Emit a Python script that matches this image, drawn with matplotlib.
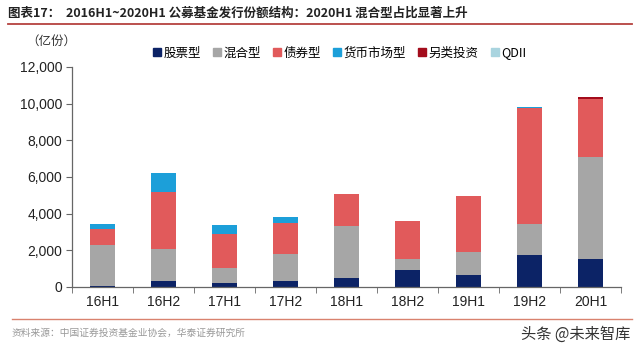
import matplotlib
matplotlib.use("Agg")
import matplotlib.pyplot as plt
import numpy as np
from matplotlib.lines import Line2D

plt.rcParams['font.family'] = ['Liberation Sans', 'Noto Sans CJK SC', 'DejaVu Sans']

categories = ["16H1", "16H2", "17H1", "17H2", "18H1", "18H2", "19H1", "19H2", "20H1"]
stock = [70, 310, 240, 340, 490, 940, 650, 1760, 1540]
mixed = [2200, 1760, 780, 1470, 2830, 580, 1250, 1690, 5530]
bond = [920, 3120, 1850, 1670, 1740, 2100, 3080, 6290, 3180]
money = [240, 1010, 500, 360, 0, 0, 0, 60, 0]
alt = [0, 0, 0, 0, 0, 0, 0, 0, 130]
qdii = [20, 0, 0, 0, 0, 0, 0, 40, 0]
series_names = ["股票型", "混合型", "债券型", "货币市场型", "另类投资", "QDII"]
yticks = [0, 2000, 4000, 6000, 8000, 10000, 12000]

colors = ["#0C2366", "#A6A6A6", "#E15A5B", "#1C9FD9", "#A30C1C", "#A9D4DF"]

fig = plt.figure(figsize=(6.4, 3.56), dpi=100)
ax = fig.add_axes([72/640, 1-287/356, (621-72)/640, (287-67)/356])

x = np.arange(len(categories))
bottom = np.zeros(len(categories))
handles = []
for vals, c, name in zip([stock, mixed, bond, money, alt, qdii], colors, series_names):
    ax.bar(x, vals, bottom=bottom, width=0.4, color=c, label=name, zorder=2)
    bottom += np.array(vals)
    handles.append(Line2D([0], [0], marker='s', linestyle='none', markersize=6,
                          markerfacecolor=c, markeredgecolor=c))

ax.set_xlim(-0.5, len(categories) - 0.5)
ax.set_ylim(0, 12000)
ax.set_yticks(yticks)
ax.set_yticklabels([f"{v:,}" for v in yticks], fontsize=10, color="#222222")
ax.set_xticks(x)
ax.set_xticklabels(categories, fontsize=10, color="#222222")
ax.set_xticks(np.arange(-0.5, len(categories)), minor=True)
ax.tick_params(axis='x', which='major', length=0, pad=6)
ax.tick_params(axis='x', which='minor', length=4, direction='out', color="#666666")
ax.tick_params(axis='y', length=4, direction='out', color="#666666", pad=3)
for s in ["top", "right"]:
    ax.spines[s].set_visible(False)
for s in ["left", "bottom"]:
    ax.spines[s].set_color("#666666")
    ax.spines[s].set_linewidth(0.9)

fig.legend(handles, series_names, loc='center left', bbox_to_anchor=(142/640, 1-53/356),
           ncol=6, frameon=False, handlelength=0.6, handletextpad=0.2,
           columnspacing=1.0, prop={'family': ['Noto Sans CJK SC', 'DejaVu Sans'], 'size': 9})

fig.text(8/640, 1-13/356, "图表17：  2016H1~2020H1 公募基金发行份额结构：2020H1 混合型占比显著上升",
         fontsize=9, fontweight='bold', va='center', ha='left', color="#222222",
         family=['Noto Sans CJK SC', 'DejaVu Sans'])
fig.add_artist(Line2D([8/640, 632/640], [1-24/356, 1-24/356], color="#B5423F", linewidth=1.3))
fig.text(26/640, 1-41/356, "（亿份）", fontsize=9, va='center', ha='left', color="#333333",
         family=['Noto Sans CJK SC', 'DejaVu Sans'])
fig.add_artist(Line2D([12/640, 632/640], [1-319/356, 1-319/356], color="#D9826E", linewidth=1.0))
fig.text(12/640, 1-333/356, "资料来源：中国证券投资基金业协会，华泰证券研究所", fontsize=7,
         va='center', ha='left', color="#999999", family=['Noto Sans CJK SC', 'DejaVu Sans'])
fig.text(630/640, 1-334/356, "头条 @未来智库", fontsize=11, va='center', ha='right',
         color="#333333", family=['Noto Sans CJK SC', 'DejaVu Sans'])

fig.savefig("out.png", dpi=100)
